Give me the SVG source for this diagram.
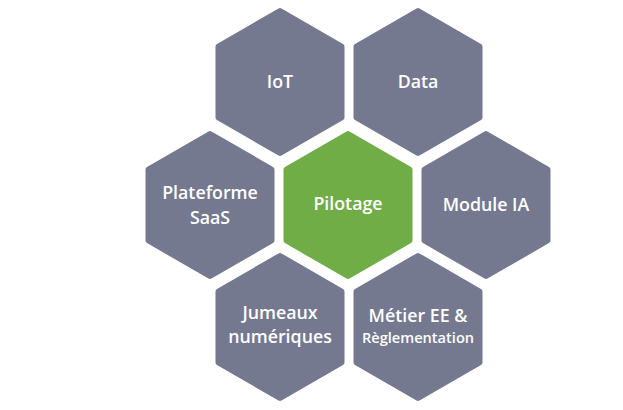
<svg xmlns="http://www.w3.org/2000/svg" xmlns:xlink="http://www.w3.org/1999/xlink" width="623" height="410" viewBox="0 0 623 410">
  <style>
    .hex { stroke-width: 6; stroke-linejoin: round; }
    .gray { fill: #75798f; stroke: #75798f; }
    .green { fill: #70ad47; stroke: #70ad47; }
    .lbl { font-family: "Open Sans", "Noto Sans", "Liberation Sans", sans-serif; font-weight: 600; font-size: 17.8px; fill: #ffffff; text-anchor: middle; }
    .sm { font-size: 14.6px; }
  </style>
  <defs>
    <polygon id="hex" points="0,-71 61.5,-35.5 61.5,35.5 0,71 -61.5,35.5 -61.5,-35.5"/>
  </defs>
  <rect width="623" height="410" fill="#ffffff"/>
  <g id="connectors"/>
  <g id="iot">
    <use xlink:href="#hex" href="#hex" x="280" y="82" class="hex gray"/>
    <text class="lbl" x="280" y="88">IoT</text>
  </g>
  <g id="data">
    <use xlink:href="#hex" href="#hex" x="418" y="82" class="hex gray"/>
    <text class="lbl" x="418" y="88">Data</text>
  </g>
  <g id="plateforme-saas">
    <use xlink:href="#hex" href="#hex" x="210" y="205" class="hex gray"/>
    <text class="lbl" x="210" y="199">Plateforme</text>
    <text class="lbl" x="210" y="224">SaaS</text>
  </g>
  <g id="pilotage">
    <use xlink:href="#hex" href="#hex" x="348" y="205" class="hex green"/>
    <text class="lbl" x="348" y="210">Pilotage</text>
  </g>
  <g id="module-ia">
    <use xlink:href="#hex" href="#hex" x="486" y="205" class="hex gray"/>
    <text class="lbl" x="486" y="211">Module IA</text>
  </g>
  <g id="jumeaux">
    <use xlink:href="#hex" href="#hex" x="280" y="327" class="hex gray"/>
    <text class="lbl" x="280" y="319">Jumeaux</text>
    <text class="lbl" x="280" y="343">numériques</text>
  </g>
  <g id="metier">
    <use xlink:href="#hex" href="#hex" x="418" y="327" class="hex gray"/>
    <text class="lbl" x="418" y="322">Métier EE &amp;</text>
    <text class="lbl sm" x="418" y="343">Règlementation</text>
  </g>
</svg>
